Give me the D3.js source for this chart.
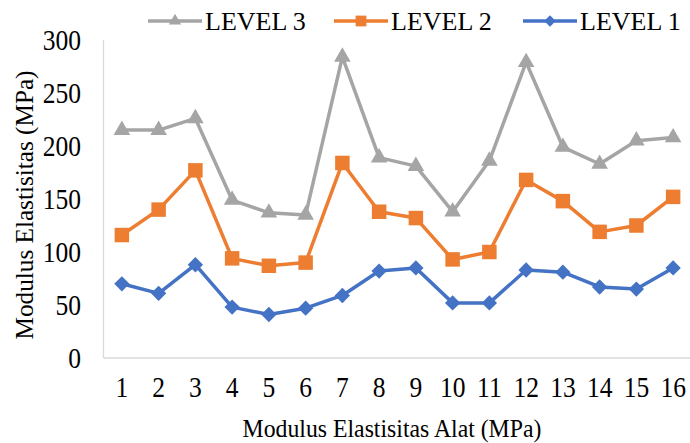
<!DOCTYPE html>
<html>
<head>
<meta charset="utf-8">
<script src="https://cdn.jsdelivr.net/npm/d3@7"></script>
<style>
  html, body { margin: 0; padding: 0; background: #fff; }
  svg { display: block; font-family: "Liberation Serif", "Times New Roman", serif; }
</style>
</head>
<body>
<svg id="chart" width="690" height="443"></svg>
<script>
// Test points along the x axis
const categories = ["1","2","3","4","5","6","7","8","9","10","11","12","13","14","15","16"];

// Modulus values (MPa) per loading level
const level1 = [70, 61, 88, 48, 41, 47, 59, 82, 85, 52, 52, 83, 81, 67, 65, 85];
const level2 = [116, 140, 177, 94, 87, 90, 184, 138, 132, 93, 100, 168, 148, 119, 125, 152];
const level3 = [215, 215, 226, 149, 137, 135, 284, 189, 181, 138, 186, 279, 199, 183, 205, 208];

const yTicks = [0, 50, 100, 150, 200, 250, 300];
const seriesNames = ["LEVEL 3", "LEVEL 2", "LEVEL 1"];

const series = [
  { name: "LEVEL 1", values: level1, color: "#4472C4", symbol: "diamond" },
  { name: "LEVEL 2", values: level2, color: "#ED7D31", symbol: "square" },
  { name: "LEVEL 3", values: level3, color: "#A5A5A5", symbol: "triangle" }
];

const svg = d3.select("#chart");
const plotLeft = 103.5, plotRight = 691.5, plotTop = 40, plotBottom = 358;

const x = d3.scaleBand().domain(categories).range([plotLeft, plotRight]);
const y = d3.scaleLinear().domain([0, 300]).range([plotBottom, plotTop]);

// narrow serif labels: horizontally condensed text
function label(parent, tx, ty, txt, size, sx, anchor) {
  return parent.append("text")
    .attr("transform", `translate(${tx},${ty}) scale(${sx},1)`)
    .attr("text-anchor", anchor).attr("font-size", size).attr("fill", "#000")
    .text(txt);
}

// axes lines
svg.append("line").attr("x1", plotLeft).attr("x2", plotLeft).attr("y1", plotTop).attr("y2", plotBottom)
  .attr("stroke", "#D9D9D9").attr("stroke-width", 1.3);
svg.append("line").attr("x1", plotLeft).attr("x2", 690).attr("y1", plotBottom).attr("y2", plotBottom)
  .attr("stroke", "#D9D9D9").attr("stroke-width", 1.3);

// y tick labels
const gy = svg.append("g");
yTicks.forEach(v => label(gy, 81, y(v) + 9.7, v, 29, 0.88, "end"));

// x tick labels
const gx = svg.append("g");
categories.forEach(c => label(gx, x(c) + x.bandwidth() / 2, 396.7, c, 29, 0.88, "middle"));

// axis titles
label(svg, 392, 436.7, "Modulus Elastisitas Alat (MPa)", 25, 0.95, "middle");
svg.append("text").attr("transform", "translate(33,205) rotate(-90) scale(0.97,1)").attr("text-anchor", "middle")
  .attr("font-size", 26).attr("fill", "#000").text("Modulus Elastisitas (MPa)");

const symType = { diamond: d3.symbolDiamond2, square: d3.symbolSquare, triangle: d3.symbolTriangle };
const symSize = { diamond: 150, square: 210, triangle: 120 };

const line = d3.line().x((d, i) => x(categories[i]) + x.bandwidth() / 2).y(d => y(d));

series.forEach(s => {
  const g = svg.append("g");
  g.append("path").datum(s.values).attr("d", line)
    .attr("fill", "none").attr("stroke", s.color).attr("stroke-width", 3.5)
    .attr("stroke-linejoin", "round");
  g.selectAll("path.m").data(s.values).join("path").attr("class", "m")
    .attr("transform", (d, i) => `translate(${x(categories[i]) + x.bandwidth() / 2},${y(d)})`)
    .attr("d", d3.symbol().type(symType[s.symbol]).size(symSize[s.symbol]))
    .attr("fill", s.color);
});

// legend
const legendX = [148, 334, 523];
seriesNames.forEach((name, i) => {
  const s = series.find(t => t.name === name);
  const g = svg.append("g").attr("transform", `translate(${legendX[i]},21)`);
  g.append("line").attr("x1", 0).attr("x2", 54).attr("y1", 0).attr("y2", 0)
    .attr("stroke", s.color).attr("stroke-width", 3.5);
  g.append("path").attr("transform", "translate(27,0)")
    .attr("d", d3.symbol().type(symType[s.symbol]).size(symSize[s.symbol] * 0.55))
    .attr("fill", s.color);
  label(g, 57, 8.5, name, 26, 1, "start");
});
</script>
</body>
</html>
